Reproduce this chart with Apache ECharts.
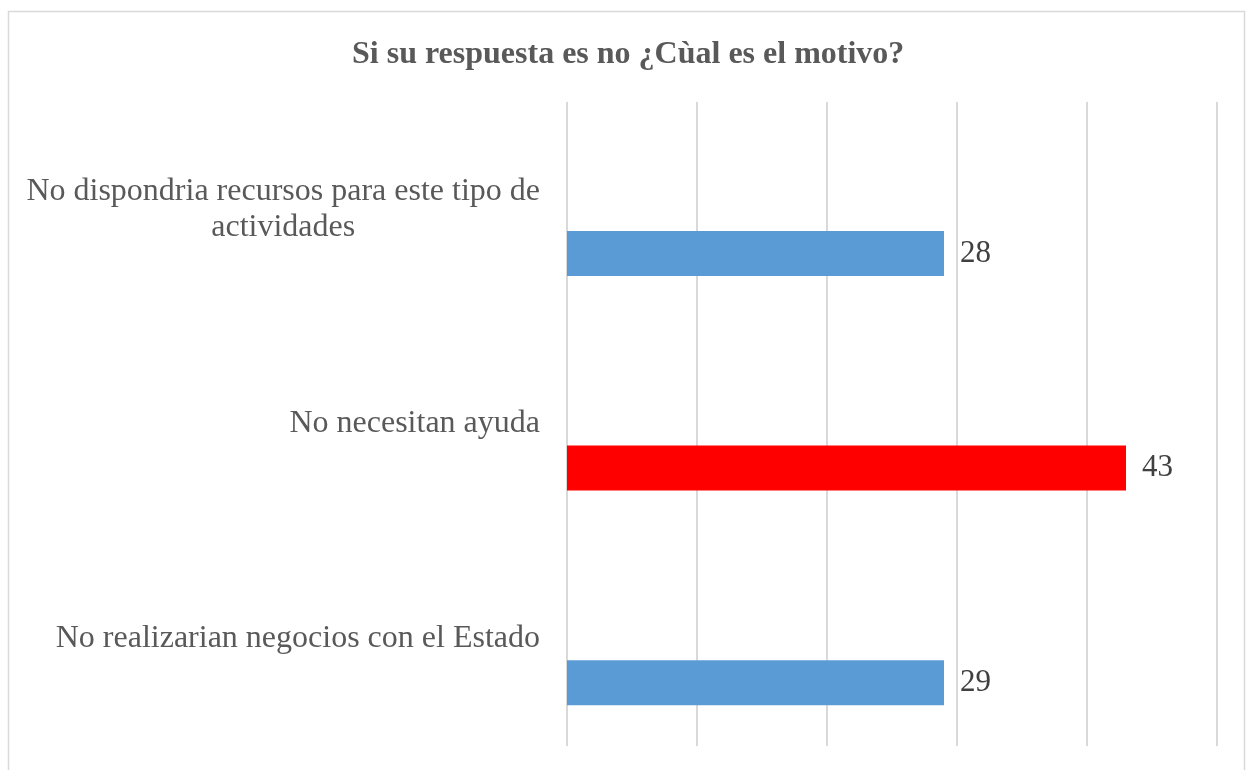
<!DOCTYPE html>
<html>
<head>
<meta charset="utf-8">
<script src="https://cdn.jsdelivr.net/npm/echarts@6/dist/echarts.min.js"></script>
<style>
html,body{margin:0;padding:0;background:#fff;}
#chart{width:1246px;height:770px;}
</style>
</head>
<body>
<div id="chart"></div>
<script>
const titleText = 'Si su respuesta es no ¿Cùal es el motivo?';
const categories = [
  'No dispondria recursos para este tipo de\nactividades',
  'No necesitan ayuda',
  'No realizarian negocios con el Estado'
];
const values = [29, 43, 29];
const valueLabels = ['28', '43', '29'];
const barColors = ['#5b9bd5', '#ff0000', '#5b9bd5'];
const axisMin = 0, axisMax = 50, axisInterval = 10;

const chart = echarts.init(document.getElementById('chart'), null, {renderer: 'canvas'});
const font = '"Liberation Serif", "Times New Roman", serif';
chart.setOption({
  backgroundColor: '#ffffff',
  animation: false,
  title: {
    text: titleText,
    left: 347,
    top: 34,
    textStyle: {fontFamily: font, fontSize: 32, fontWeight: 'bold', color: '#595959'}
  },
  graphic: [{
    type: 'rect',
    shape: {x: 8.5, y: 11.5, width: 1236, height: 780},
    style: {fill: 'none', stroke: '#d9d9d9', lineWidth: 1.5},
    silent: true
  }],
  grid: {left: 567, right: 29, top: 102, bottom: 24, containLabel: false},
  xAxis: {
    type: 'value', min: axisMin, max: axisMax, interval: axisInterval,
    axisLabel: {show: false}, axisLine: {show: false}, axisTick: {show: false},
    splitLine: {show: true, lineStyle: {color: '#d9d9d9', width: 2}}
  },
  yAxis: {
    type: 'category', inverse: true, data: categories,
    axisLine: {show: false}, axisTick: {show: false},
    axisLabel: {
      margin: 27,
      fontFamily: font, fontSize: 32, color: '#595959', lineHeight: 36,
      formatter: function (v) {
        return v.split('\n').map(function (l) { return '{c|' + l + '}'; }).join('\n');
      },
      rich: {c: {align: 'center', fontFamily: font, fontSize: 32, color: '#595959', lineHeight: 36}}
    }
  },
  series: [
    {
      type: 'bar', name: 'blank', data: values.map(function () { return null; }),
      barWidth: 45, barGap: '96%', silent: true
    },
    {
      type: 'bar', name: 'Motivo',
      data: values.map(function (v, i) { return {value: v, itemStyle: {color: barColors[i]}}; }),
      barWidth: 45, barGap: '96%',
      label: {
        show: true, position: 'right', distance: 16,
        fontFamily: font, fontSize: 31, color: '#404040',
        formatter: function (p) { return valueLabels[p.dataIndex]; }
      }
    }
  ]
});
</script>
</body>
</html>
